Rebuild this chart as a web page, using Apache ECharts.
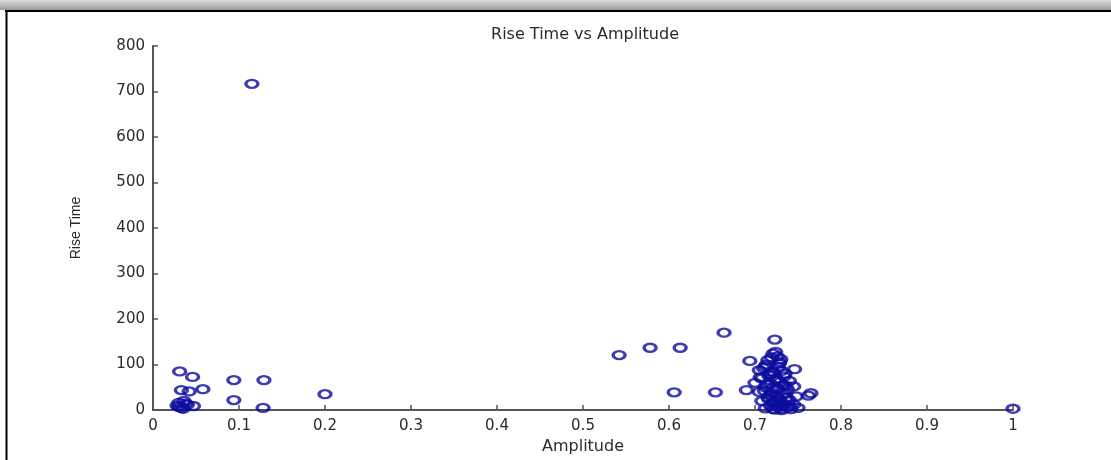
<!DOCTYPE html>
<html>
<head>
<meta charset="utf-8">
<script src="https://cdn.jsdelivr.net/npm/echarts@6/dist/echarts.min.js"></script>
<style>
html,body{margin:0;padding:0;background:#fff;}
#chart{width:1111px;height:460px;}
</style>
</head>
<body>
<div id="chart"></div>
<script>
// Amplitude (x) and Rise Time (y) of each measured event
var amplitude = [
  0.031, 0.046, 0.094, 0.129, 0.033, 0.042, 0.058, 0.094, 0.128, 0.200,
  0.115, 0.030, 0.035, 0.047, 0.030, 0.036, 0.040, 0.028, 0.033, 0.038,
  0.542, 0.578, 0.613, 0.664, 0.606, 0.654, 1.000,
  0.723, 0.721, 0.726, 0.715, 0.730, 0.694, 0.728, 0.712, 0.746, 0.705,
  0.720, 0.735, 0.716, 0.708, 0.725, 0.740, 0.700, 0.718, 0.732, 0.745,
  0.712, 0.726, 0.738, 0.690, 0.705, 0.720, 0.735, 0.762, 0.765, 0.748,
  0.715, 0.728, 0.740, 0.708, 0.722, 0.733, 0.745, 0.718, 0.727, 0.738,
  0.750, 0.712, 0.730, 0.742, 0.723,
  0.724, 0.719, 0.729, 0.713, 0.727, 0.710, 0.731, 0.722, 0.717, 0.734,
  0.706, 0.724, 0.729, 0.714, 0.736, 0.721, 0.726, 0.711, 0.732, 0.719,
  0.725, 0.737, 0.716, 0.729, 0.722, 0.733, 0.727, 0.741, 0.720, 0.731
];
var riseTime = [
  85, 73, 66, 66, 44, 41, 46, 22, 5, 35,
  717, 7, 3, 9, 16, 20, 12, 10, 5, 14,
  121, 137, 137, 170, 39, 39, 3,
  155, 124, 118, 110, 112, 108, 102, 96, 90, 88,
  85, 80, 76, 70, 68, 64, 60, 58, 55, 52,
  50, 48, 45, 44, 40, 38, 36, 32, 37, 30,
  28, 25, 22, 20, 18, 15, 12, 10, 8, 6,
  5, 4, 3, 2, 1,
  128, 116, 106, 100, 94, 92, 86, 82, 78, 74,
  72, 66, 62, 56, 54, 50, 44, 42, 34, 33,
  30, 27, 24, 18, 14, 10, 16, 8, 3, 0
];
var xTicks = ['0','0.1','0.2','0.3','0.4','0.5','0.6','0.7','0.8','0.9','1'];
var yTicks = ['0','100','200','300','400','500','600','700','800'];

var points = amplitude.map(function (a, i) { return [a, riseTime[i]]; });

var chart = echarts.init(document.getElementById('chart'), null, {renderer: 'canvas'});
var axisTextColor = '#2a2a2a';
chart.setOption({
  backgroundColor: '#ffffff',
  animation: false,
  title: {
    text: 'Rise Time vs Amplitude',
    left: 580, top: 22, textAlign: 'center',
    textStyle: {fontFamily: 'DejaVu Sans', fontSize: 16, fontWeight: 'normal', color: axisTextColor}
  },
  grid: {left: 153, right: 98, top: 46, bottom: 47, containLabel: false},
  xAxis: {
    type: 'value', min: 0, max: 1, interval: 0.1,
    name: 'Amplitude', nameLocation: 'middle', nameGap: 26,
    nameTextStyle: {fontFamily: 'DejaVu Sans', fontSize: 16, color: axisTextColor},
    axisLine: {show: true, onZero: false, lineStyle: {color: '#555', width: 2}},
    axisTick: {show: true, inside: true, length: 5, lineStyle: {color: '#555', width: 1.5}},
    splitLine: {show: false},
    axisLabel: {
      margin: 9, fontFamily: 'DejaVu Sans', fontSize: 15, color: axisTextColor,
      formatter: function (v) { return xTicks[Math.round(v * 10)]; }
    }
  },
  yAxis: {
    type: 'value', min: 0, max: 800, interval: 100,
    name: 'Rise Time', nameLocation: 'middle', nameGap: 70, nameRotate: 90,
    nameTextStyle: {fontFamily: 'Liberation Sans', fontSize: 14, color: axisTextColor},
    axisLine: {show: true, onZero: false, lineStyle: {color: '#555', width: 2}},
    axisTick: {show: true, inside: true, length: 5, lineStyle: {color: '#555', width: 1.5}},
    splitLine: {show: false},
    axisLabel: {
      margin: 8, fontFamily: 'DejaVu Sans', fontSize: 15, color: axisTextColor,
      formatter: function (v) { return yTicks[Math.round(v / 100)]; }
    }
  },
  graphic: [
    {type: 'rect', silent: true, z: 100, shape: {x: 0, y: 0, width: 1111, height: 10},
     style: {fill: new echarts.graphic.LinearGradient(0, 0, 0, 1, [
       {offset: 0, color: '#dcdcdc'}, {offset: 1, color: '#9a9a9a'}])}},
    {type: 'line', silent: true, z: 100, shape: {x1: 5, y1: 11, x2: 1111, y2: 11},
     style: {stroke: '#000', lineWidth: 2}},
    {type: 'line', silent: true, z: 100, shape: {x1: 6.5, y1: 10, x2: 6.5, y2: 460},
     style: {stroke: '#000', lineWidth: 2}}
  ],
  series: [{
    type: 'scatter',
    data: points,
    symbol: 'circle',
    symbolSize: [12, 8],
    itemStyle: {color: 'rgba(0,0,0,0)', borderColor: '#0c0c9e', borderWidth: 2.8},
    emphasis: {disabled: true}
  }]
});
</script>
</body>
</html>
